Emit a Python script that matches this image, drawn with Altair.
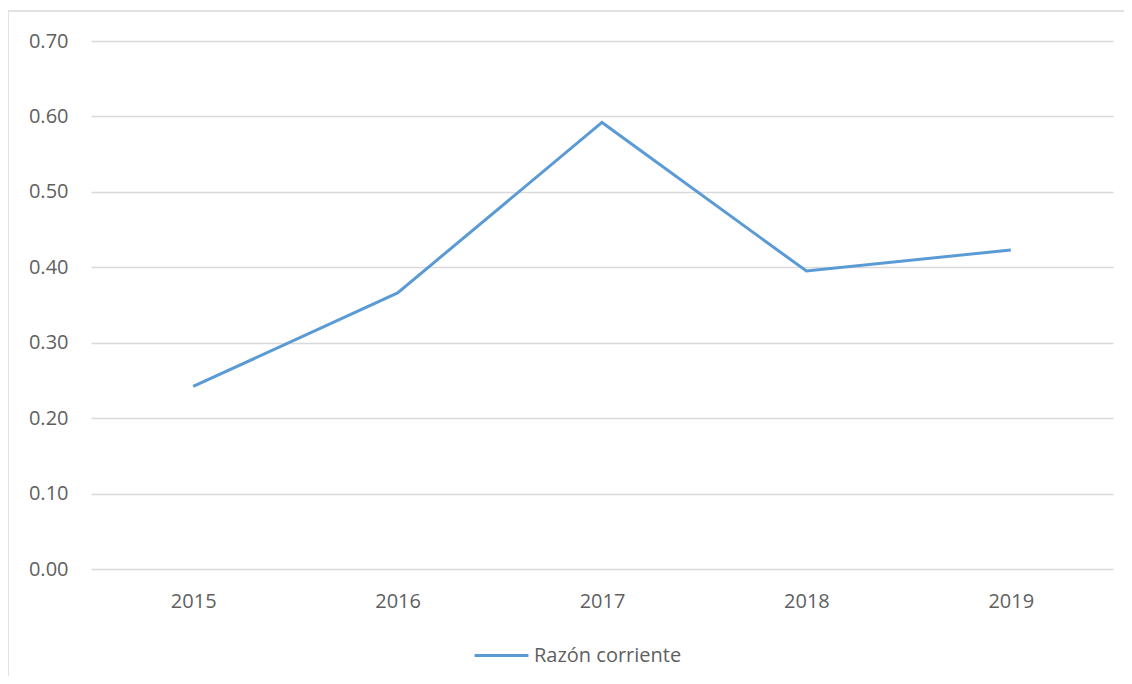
import altair as alt
import pandas as pd

years = ["2015", "2016", "2017", "2018", "2019"]
values = [0.242, 0.366, 0.592, 0.395, 0.423]
series = ["Razón corriente"] * 5

df = pd.DataFrame({"Año": years, "Valor": values, "Serie": series})

FONT = "Open Sans"
TXT = "#5f5f5f"
FS = 20

line = alt.Chart(df).mark_line(strokeWidth=3).encode(
    x=alt.X("Año:O", scale=alt.Scale(type="point", padding=0.5),
            axis=alt.Axis(title=None, labelAngle=0, domain=False, ticks=False,
                          labelPadding=22, labelFontSize=FS, labelColor=TXT,
                          labelFont=FONT, grid=False)),
    y=alt.Y("Valor:Q", scale=alt.Scale(domain=[0, 0.7], nice=False),
            axis=alt.Axis(title=None, values=[0, 0.1, 0.2, 0.3, 0.4, 0.5, 0.6, 0.7],
                          format=".2f", domain=False, ticks=False, labelPadding=23,
                          labelFontSize=FS, labelColor=TXT, labelFont=FONT,
                          gridColor="#d9d9d9", gridWidth=1.5)),
    color=alt.Color("Serie:N", scale=alt.Scale(range=["#5B9BD5"]),
                    legend=alt.Legend(title=None, orient="none", legendX=382, legendY=586,
                                      symbolType="stroke", symbolStrokeWidth=3,
                                      symbolSize=2900, labelFontSize=FS, labelColor=TXT,
                                      labelFont=FONT, labelOffset=4)),
)

frame = alt.Chart(df).mark_rect(fill=None, stroke="#d9d9d9", strokeWidth=1.5).encode(
    x=alt.value(-83), x2=alt.value(1300), y=alt.value(-30), y2=alt.value(800)
).transform_filter(alt.datum.Año == "2015")

chart = alt.layer(frame, line).properties(
    width=1022, height=528,
    autosize=alt.AutoSizeParams(type="none"),
    padding={"left": 83, "top": 33, "right": 11, "bottom": 107},
).configure_view(stroke=None)

chart.save("out.html", embed_options={"renderer": "svg", "actions": False})
